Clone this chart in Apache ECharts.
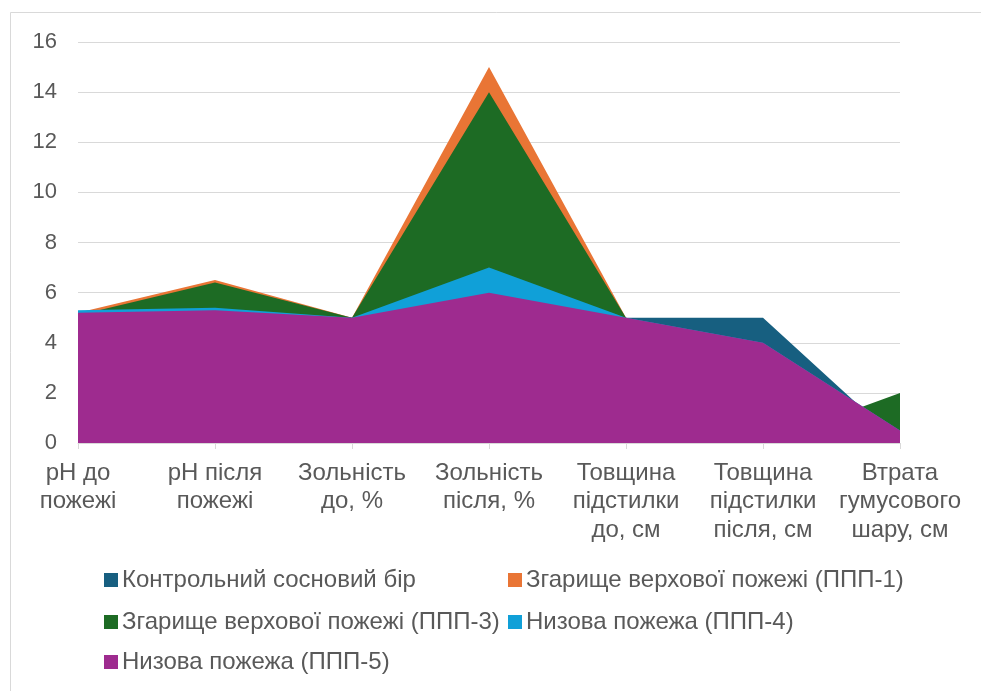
<!DOCTYPE html>
<html><head><meta charset="utf-8">
<script src="https://cdn.jsdelivr.net/npm/echarts@6/dist/echarts.min.js"></script>
<style>html,body{margin:0;padding:0;background:#fff}#c{width:981px;height:691px}</style>
</head><body><div id="c"></div>
<script>
const categories = ['pH до\nпожежі','pH після\nпожежі','Зольність\nдо, %','Зольність\nпісля, %','Товщина\nпідстилки\nдо, см','Товщина\nпідстилки\nпісля, см','Втрата\nгумусового\nшару, см'];
const seriesNames = ['Контрольний сосновий бір','Згарище верхової пожежі (ППП-1)','Згарище верхової пожежі (ППП-3)','Низова пожежа (ППП-4)','Низова пожежа (ППП-5)'];
const control = [5.2, 5.2, 5, 5, 5, 5, 0];
const ppp1 = [5.2, 6.5, 5, 15, 5, 0, 1.8];
const ppp3 = [5.1, 6.4, 5, 14, 5, 0, 2];
const ppp4 = [5.3, 5.4, 5, 7, 5, 4, 0.5];
const ppp5 = [5.2, 5.3, 5, 6, 5, 4, 0.5];
const yTicks = {min: 0, max: 16, interval: 2};

const colors = ['#175F80','#E97535','#1D6B24','#10A0D8','#9E2B8F'];
const values = [control, ppp1, ppp3, ppp4, ppp5];
const font = 'Liberation Sans, Arial, sans-serif';

const legendPos = [
  {left: 104, top: 568}, {left: 508, top: 568},
  {left: 104, top: 610}, {left: 508, top: 610},
  {left: 104, top: 650}
];

const chart = echarts.init(document.getElementById('c'));
chart.setOption({
  animation: false,
  backgroundColor: '#fff',
  graphic: [{type: 'rect', shape: {x: 10.5, y: 12.5, width: 1000, height: 720}, style: {fill: 'none', stroke: '#D9D9D9', lineWidth: 1}, z: -10}],
  grid: {left: 78, right: 81, top: 42, bottom: 248},
  legend: seriesNames.map((n, i) => ({
    data: [n], left: legendPos[i].left, top: legendPos[i].top, padding: 0,
    icon: 'rect', itemWidth: 14, itemHeight: 14, itemGap: 0,
    textStyle: {fontFamily: font, fontSize: 24, color: '#595959', padding: [0,0,0,-1]},
    selectedMode: false
  })),
  xAxis: {
    type: 'category', data: categories, boundaryGap: false,
    axisLine: {lineStyle: {color: '#D9D9D9', width: 1}},
    axisTick: {show: true, length: 6, lineStyle: {color: '#D9D9D9'}},
    axisLabel: {fontFamily: font, fontSize: 24, color: '#595959', lineHeight: 28.5, margin: 16, interval: 0}
  },
  yAxis: {
    type: 'value', min: yTicks.min, max: yTicks.max, interval: yTicks.interval,
    axisLine: {show: false}, axisTick: {show: false},
    splitLine: {lineStyle: {color: '#D9D9D9', width: 1}},
    axisLabel: {fontFamily: font, fontSize: 22, color: '#595959', margin: 21}
  },
  series: seriesNames.map((n, i) => ({
    name: n, type: 'line', data: values[i], symbol: 'none',
    itemStyle: {color: colors[i]},
    lineStyle: {width: 0, color: colors[i]},
    areaStyle: {color: colors[i], opacity: 1}
  }))
});
</script></body></html>
